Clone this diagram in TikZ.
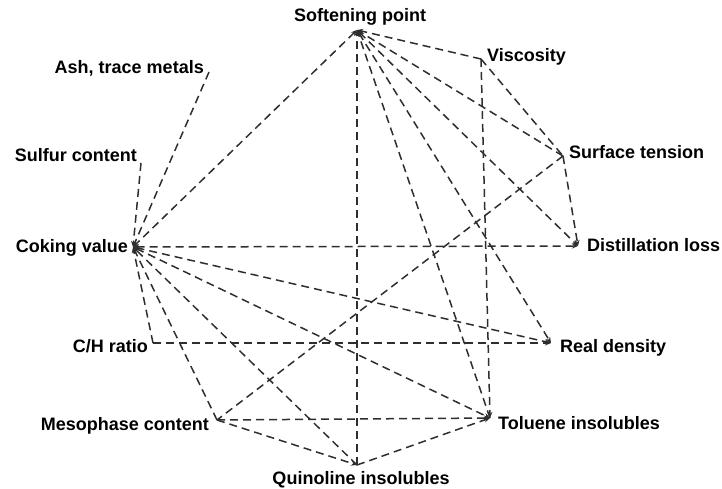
\documentclass[tikz,border=0pt]{standalone}
\usepackage{fontspec}
\setmainfont{Liberation Sans}
\usetikzlibrary{arrows.meta}
\begin{document}
\begin{tikzpicture}[x=1pt,y=-1pt,
  lbl/.style={font=\bfseries\fontsize{18}{18}\selectfont, inner sep=0pt, text=black},
  link/.style={dash pattern=on 8pt off 5pt, line width=1.5pt, draw=black!82},
  >={Stealth[length=6pt,width=5pt]}]
\useasboundingbox (0,0) rectangle (722,488);

% attachment points of the properties
\coordinate (sp)  at (357,30);
\coordinate (vi)  at (481,59);
\coordinate (st)  at (563,156);
\coordinate (dl)  at (578,246);
\coordinate (rd)  at (551,343);
\coordinate (ti)  at (490,418);
\coordinate (qi)  at (357,465);
\coordinate (mc)  at (217,420);
\coordinate (ch)  at (153,343);
\coordinate (cv)  at (133,247);
\coordinate (sc)  at (141,163);
\coordinate (ash) at (209,72);

% property labels
\node[lbl, anchor=base]      (spl)  at (360,21)  {Softening point};
\node[lbl, anchor=base west] (vil)  at (487,61)  {Viscosity};
\node[lbl, anchor=base west] (stl)  at (569,158) {Surface tension};
\node[lbl, anchor=base west] (dll)  at (587,251) {Distillation loss};
\node[lbl, anchor=base west] (rdl)  at (560,352) {Real density};
\node[lbl, anchor=base west] (til)  at (498,429) {Toluene insolubles};
\node[lbl, anchor=base]      (qil)  at (361,484) {Quinoline insolubles};
\node[lbl, anchor=base east] (mcl)  at (209,430) {Mesophase content};
\node[lbl, anchor=base east] (chl)  at (148,352) {C/H ratio};
\node[lbl, anchor=base east] (cvl)  at (128,252) {Coking value};
\node[lbl, anchor=base east] (scl)  at (137,161) {Sulfur content};
\node[lbl, anchor=base east] (ashl) at (204,73)  {Ash, trace metals};

% relations around the softening point
\draw[link,<->] (sp) -- (cv);
\draw[link,->]  (vi) -- (sp);
\draw[link,->]  (st) -- (sp);
\draw[link,<->] (sp) -- (dl);
\draw[link,<->] (sp) -- (rd);
\draw[link,->]  (ti) -- (sp);
\draw[link,->]  (qi) -- (sp);

% relations around the coking value
\draw[link,<->] (cv) -- (dl);
\draw[link,<->] (cv) -- (rd);
\draw[link,<->] (cv) -- (ti);
\draw[link,->]  (qi) -- (cv);
\draw[link,->]  (mc) -- (cv);
\draw[link,->]  (ch) -- (cv);
\draw[link,->]  (sc) -- (cv);
\draw[link,->]  (ash) -- (cv);

% remaining relations
\draw[link]     (vi) -- (st);
\draw[link,->]  (vi) -- (ti);
\draw[link,->]  (st) -- (dl);
\draw[link]     (st) -- (mc);
\draw[link,->]  (ch) -- (rd);
\draw[link,->]  (mc) -- (ti);
\draw[link,->]  (qi) -- (ti);
\draw[link,->]  (mc) -- (qi);
\end{tikzpicture}
\end{document}
